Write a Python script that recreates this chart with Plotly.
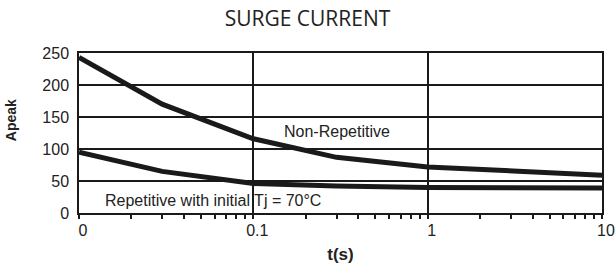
import plotly.graph_objects as go

# Data
t_points = [0.01, 0.03, 0.1, 0.3, 1, 10]
non_repetitive = [243, 170, 116, 87, 72, 59]
repetitive = [95, 65, 46, 42, 40, 39]

x_tickvals = [0.01, 0.1, 1, 10]
x_ticktext = ["0", "0.1", "1", "10"]
y_tickvals = [0, 50, 100, 150, 200, 250]

minor_vals = [m * d for d in (0.01, 0.1, 1) for m in range(2, 10)]

dark = "#1a1a1a"
fig = go.Figure()
fig.add_trace(go.Scatter(x=t_points, y=non_repetitive, mode="lines",
                         line=dict(color=dark, width=5), showlegend=False))
fig.add_trace(go.Scatter(x=t_points, y=repetitive, mode="lines",
                         line=dict(color=dark, width=5), showlegend=False))

fig.add_annotation(x=-0.52, y=128, xref="x", yref="y", text="Non-Repetitive",
                   showarrow=False, font=dict(family="Liberation Sans, Arial", size=16, color="#222"))
fig.add_annotation(x=-1.233, y=19, xref="x", yref="y", text="Repetitive with initial Tj = 70°C",
                   showarrow=False, font=dict(family="Liberation Sans, Arial", size=16, color="#222"))
fig.add_annotation(x=-0.130, y=0.58, xref="paper", yref="paper", text="<b>Apeak</b>",
                   textangle=-90, showarrow=False, xanchor="center", yanchor="middle",
                   font=dict(family="Liberation Sans, Arial", size=14, color="#222"))

fig.update_layout(
    width=615, height=264,
    margin=dict(l=79, r=13, t=53, b=51, autoexpand=False),
    paper_bgcolor="white", plot_bgcolor="white",
    title=dict(text="SURGE CURRENT", x=0.5, xanchor="center", y=0.93, yanchor="middle",
               font=dict(family="Open Sans", size=21, color="#222"), automargin=False),
    font=dict(family="Liberation Sans, Arial", size=16, color="#222"),
)
fig.update_xaxes(
    type="log", range=[-2, 1], automargin=False,
    tickmode="array", tickvals=x_tickvals, ticktext=x_ticktext,
    ticks="outside", ticklen=4, tickcolor=dark, tickwidth=1.5,
    ticklabelshift=4, ticklabelstandoff=-2,
    showgrid=True, gridcolor=dark, gridwidth=1.5,
    showline=True, linecolor=dark, linewidth=1.5, mirror=True,
    minor=dict(tickmode="array", tickvals=minor_vals, ticks="outside", ticklen=4,
               tickcolor=dark, tickwidth=1.5, showgrid=False),
    title=dict(text="<b>t(s)</b>", standoff=10, font=dict(size=17)),
    zeroline=False,
)
fig.update_yaxes(
    range=[0, 250], tickmode="array", tickvals=y_tickvals, automargin=False,
    ticks="", ticklabelstandoff=5,
    showgrid=True, gridcolor=dark, gridwidth=1.5,
    showline=True, linecolor=dark, linewidth=1.5, mirror=True,
    zeroline=False,
)

fig.write_html("out.html", config={"displayModeBar": False},
               post_script="document.body.style.margin='0';")
